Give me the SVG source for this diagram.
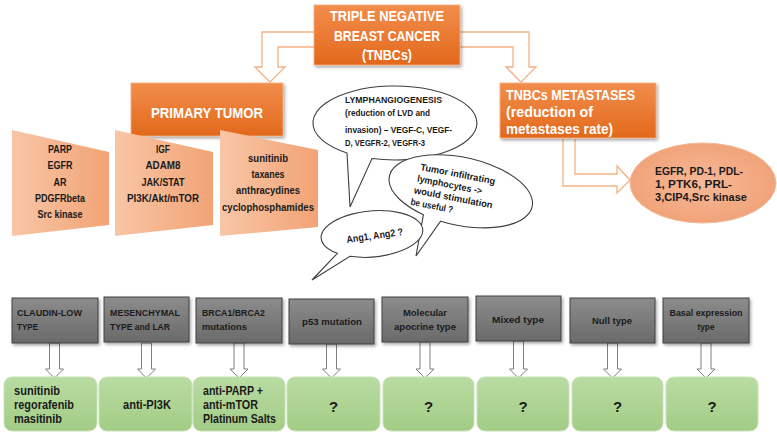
<svg xmlns="http://www.w3.org/2000/svg" width="777" height="437" viewBox="0 0 777 437">
<defs>
<linearGradient id="gOr" x1="0" y1="0" x2="0" y2="1"><stop offset="0" stop-color="#f28d4c"/><stop offset="1" stop-color="#e2691c"/></linearGradient>
<linearGradient id="gSal" x1="0" y1="0" x2="1" y2="0"><stop offset="0" stop-color="#f8c6a6"/><stop offset="1" stop-color="#f2a375"/></linearGradient>
<radialGradient id="gEll" cx="0.5" cy="0.5" r="0.6"><stop offset="0" stop-color="#f6b996"/><stop offset="1" stop-color="#f09f74"/></radialGradient>
<linearGradient id="gGr" x1="0" y1="0" x2="0" y2="1"><stop offset="0" stop-color="#8c8c8c"/><stop offset="1" stop-color="#6a6a6a"/></linearGradient>
<linearGradient id="gGn" x1="0" y1="0" x2="0" y2="1"><stop offset="0" stop-color="#b9dca2"/><stop offset="1" stop-color="#a2cc86"/></linearGradient>
<filter id="sh" x="-10%" y="-10%" width="130%" height="140%"><feDropShadow dx="1.5" dy="2" stdDeviation="1.5" flood-color="#000" flood-opacity="0.35"/></filter>
</defs>
<style>
text{font-family:"Liberation Sans",Arial,sans-serif;font-weight:bold}
.or{fill:url(#gOr);stroke:#f4b183;stroke-width:0.8;filter:url(#sh)}
.wt{fill:#fff}
.dk{fill:#1a1a1a}
.sal{fill:url(#gSal)}
.bub{fill:#fff;stroke:#3f3f3f;stroke-width:1.1}
.gray{fill:url(#gGr);stroke:#404040;stroke-width:1;filter:url(#sh)}
.green{fill:url(#gGn);stroke:#c9e2b8;stroke-width:1}
.oarr{fill:#fff;stroke:#f4b183;stroke-width:1.3}
.garr{fill:#fff;stroke:#7f7f7f;stroke-width:1}
.c{text-anchor:middle}
</style>
<rect width="777" height="437" fill="#fff"/>

<g id="connectors">
<path class="oarr" d="M314,32 L262,32 L262,67 L255,67 L270,82 L285,67 L278,67 L278,47 L314,47"/>
<path class="oarr" d="M460,32 L529,32 L529,67 L536,67 L521,82 L506,67 L513,67 L513,47 L460,47"/>
<path class="oarr" d="M563,139 L563,186 L617,186 L617,193 L630,180 L617,166 L617,174 L575,174 L575,139"/>
<path class="garr" d="M49.5,343 h10 v26 h4 l-9,9 l-9,-9 h4 z"/>
<path class="garr" d="M141.5,343 h10 v26 h4 l-9,9 l-9,-9 h4 z"/>
<path class="garr" d="M234,343 h10 v26 h4 l-9,9 l-9,-9 h4 z"/>
<path class="garr" d="M326.5,344 h10 v25 h4 l-9,9 l-9,-9 h4 z"/>
<path class="garr" d="M420,342 h10 v27 h4 l-9,9 l-9,-9 h4 z"/>
<path class="garr" d="M513.5,341 h10 v28 h4 l-9,9 l-9,-9 h4 z"/>
<path class="garr" d="M607.5,343 h10 v26 h4 l-9,9 l-9,-9 h4 z"/>
<path class="garr" d="M701,343 h10 v26 h4 l-9,9 l-9,-9 h4 z"/>
</g>

<g id="tnbc">
<rect class="or" x="314" y="5" width="146" height="60"/>
<text class="wt c" font-size="14" x="387" y="21" textLength="114" lengthAdjust="spacingAndGlyphs">TRIPLE NEGATIVE</text>
<text class="wt c" font-size="14" x="387" y="41" textLength="106" lengthAdjust="spacingAndGlyphs">BREAST CANCER</text>
<text class="wt c" font-size="14" x="387" y="60" textLength="50" lengthAdjust="spacingAndGlyphs">(TNBCs)</text>
</g>

<g id="primary">
<rect class="or" x="131" y="83" width="152" height="53"/>
<text class="wt c" font-size="15" x="207" y="118" textLength="112" lengthAdjust="spacingAndGlyphs">PRIMARY TUMOR</text>
</g>

<g id="metastases">
<rect class="or" x="500" y="83" width="156" height="55"/>
<text class="wt" font-size="15" x="506" y="100" textLength="129" lengthAdjust="spacingAndGlyphs">TNBCs METASTASES</text>
<text class="wt" font-size="15" x="506" y="117" textLength="87" lengthAdjust="spacingAndGlyphs">(reduction of</text>
<text class="wt" font-size="15" x="506" y="134" textLength="107" lengthAdjust="spacingAndGlyphs">metastases rate)</text>
</g>

<g id="trap1">
<polygon class="sal" points="12,130 109,152 109,225 12,236"/>
<text class="dk c" font-size="10" x="60" y="153" textLength="24" lengthAdjust="spacingAndGlyphs">PARP</text>
<text class="dk c" font-size="10" x="60" y="169" textLength="25" lengthAdjust="spacingAndGlyphs">EGFR</text>
<text class="dk c" font-size="10" x="60" y="186" textLength="13" lengthAdjust="spacingAndGlyphs">AR</text>
<text class="dk c" font-size="10" x="60" y="202" textLength="50" lengthAdjust="spacingAndGlyphs">PDGFRbeta</text>
<text class="dk c" font-size="10" x="60" y="218" textLength="45" lengthAdjust="spacingAndGlyphs">Src kinase</text>
</g>

<g id="trap2">
<polygon class="sal" points="115,130 213,152 213,225 115,236"/>
<text class="dk c" font-size="10" x="163" y="153" textLength="14" lengthAdjust="spacingAndGlyphs">IGF</text>
<text class="dk c" font-size="10" x="163" y="169" textLength="35" lengthAdjust="spacingAndGlyphs">ADAM8</text>
<text class="dk c" font-size="10" x="163" y="186" textLength="43" lengthAdjust="spacingAndGlyphs">JAK/STAT</text>
<text class="dk c" font-size="10" x="163" y="202" textLength="72" lengthAdjust="spacingAndGlyphs">PI3K/Akt/mTOR</text>
</g>

<g id="trap3">
<polygon class="sal" points="220,130 318,150 318,227 220,236"/>
<text class="dk c" font-size="10" x="268" y="162" textLength="40" lengthAdjust="spacingAndGlyphs">sunitinib</text>
<text class="dk c" font-size="10" x="268" y="178" textLength="33" lengthAdjust="spacingAndGlyphs">taxanes</text>
<text class="dk c" font-size="10" x="268" y="194" textLength="64" lengthAdjust="spacingAndGlyphs">anthracydines</text>
<text class="dk c" font-size="10" x="268" y="211" textLength="92" lengthAdjust="spacingAndGlyphs">cyclophosphamides</text>
</g>

<g id="lymph">
<path class="bub" d="M372,158.5 A82 37 0 1 0 347,153 L350,207 Z"/>
<text class="dk" font-size="9.5" x="345" y="103" textLength="97" lengthAdjust="spacingAndGlyphs">LYMPHANGIOGENESIS</text>
<text class="dk" font-size="9.5" x="345" y="116" textLength="85" lengthAdjust="spacingAndGlyphs">(reduction of LVD and</text>
<text class="dk" font-size="9.5" x="345" y="133" textLength="107" lengthAdjust="spacingAndGlyphs">invasion) – VEGF-C, VEGF-</text>
<text class="dk" font-size="9.5" x="345" y="146" textLength="80" lengthAdjust="spacingAndGlyphs">D, VEGFR-2, VEGFR-3</text>
</g>

<g id="tumor">
<path class="bub" d="M440.6,221.2 A73 34 12 1 0 423.4,214.7 L416,256 Z"/>
<g transform="rotate(11 420 170)">
<text class="dk" font-size="9.5" x="420" y="170" textLength="76" lengthAdjust="spacingAndGlyphs">Tumor infiltrating</text>
<text class="dk" font-size="9.5" x="419" y="182" textLength="66" lengthAdjust="spacingAndGlyphs">lymphocytes -&gt;</text>
<text class="dk" font-size="9.5" x="418" y="194" textLength="80" lengthAdjust="spacingAndGlyphs">would stimulation</text>
<text class="dk" font-size="9.5" x="417" y="206" textLength="43" lengthAdjust="spacingAndGlyphs">be useful ?</text>
</g>
</g>

<g id="ang">
<path class="bub" d="M350,256.3 A51 23 -5 1 0 337.4,253.3 L312,280 Z"/>
<text class="dk" font-size="10" x="347" y="243" textLength="57" lengthAdjust="spacingAndGlyphs" transform="rotate(-8 347 243)">Ang1, Ang2 ?</text>
</g>

<g id="egfr">
<ellipse cx="703" cy="183" rx="73" ry="40" fill="url(#gEll)" stroke="#f4b894" stroke-width="1"/>
<text class="dk" font-size="10.5" x="655" y="175" textLength="88" lengthAdjust="spacingAndGlyphs">EGFR, PD-1, PDL-</text>
<text class="dk" font-size="10.5" x="655" y="188" textLength="77" lengthAdjust="spacingAndGlyphs">1, PTK6, PRL-</text>
<text class="dk" font-size="10.5" x="655" y="201" textLength="92" lengthAdjust="spacingAndGlyphs">3,CIP4,Src kinase</text>
</g>

<g id="type1"><rect class="gray" x="12" y="298" width="86" height="45"/>
<text class="dk" font-size="9" x="17" y="316" textLength="65" lengthAdjust="spacingAndGlyphs">CLAUDIN-LOW</text>
<text class="dk" font-size="9" x="17" y="330" textLength="21" lengthAdjust="spacingAndGlyphs">TYPE</text></g>
<g id="type2"><rect class="gray" x="104" y="297" width="85" height="45"/>
<text class="dk" font-size="9" x="110" y="316" textLength="70" lengthAdjust="spacingAndGlyphs">MESENCHYMAL</text>
<text class="dk" font-size="9" x="110" y="330" textLength="60" lengthAdjust="spacingAndGlyphs">TYPE and LAR</text></g>
<g id="type3"><rect class="gray" x="196" y="298" width="86" height="45"/>
<text class="dk" font-size="9" x="202" y="316" textLength="63" lengthAdjust="spacingAndGlyphs">BRCA1/BRCA2</text>
<text class="dk" font-size="9" x="202" y="330" textLength="45" lengthAdjust="spacingAndGlyphs">mutations</text></g>
<g id="type4"><rect class="gray" x="289" y="299" width="85" height="45"/>
<text class="dk c" font-size="9" x="332" y="325" textLength="60" lengthAdjust="spacingAndGlyphs">p53 mutation</text></g>
<g id="type5"><rect class="gray" x="382" y="297" width="86" height="45"/>
<text class="dk c" font-size="9" x="425" y="316" textLength="44" lengthAdjust="spacingAndGlyphs">Molecular</text>
<text class="dk c" font-size="9" x="425" y="330" textLength="62" lengthAdjust="spacingAndGlyphs">apocrine type</text></g>
<g id="type6"><rect class="gray" x="476" y="296" width="85" height="45"/>
<text class="dk c" font-size="9" x="518" y="323" textLength="52" lengthAdjust="spacingAndGlyphs">Mixed type</text></g>
<g id="type7"><rect class="gray" x="570" y="298" width="85" height="45"/>
<text class="dk c" font-size="9" x="612" y="324" textLength="40" lengthAdjust="spacingAndGlyphs">Null type</text></g>
<g id="type8"><rect class="gray" x="663" y="298" width="86" height="45"/>
<text class="dk c" font-size="9" x="706" y="316" textLength="73" lengthAdjust="spacingAndGlyphs">Basal expression</text>
<text class="dk c" font-size="9" x="706" y="330" textLength="17" lengthAdjust="spacingAndGlyphs">type</text></g>

<g id="ther1"><rect class="green" x="4" y="377" width="93" height="54" rx="8"/>
<text class="dk" font-size="12.5" x="14" y="395" textLength="46" lengthAdjust="spacingAndGlyphs">sunitinib</text>
<text class="dk" font-size="12.5" x="14" y="409" textLength="60" lengthAdjust="spacingAndGlyphs">regorafenib</text>
<text class="dk" font-size="12.5" x="14" y="423" textLength="48" lengthAdjust="spacingAndGlyphs">masitinib</text></g>
<g id="ther2"><rect class="green" x="99" y="377" width="93" height="54" rx="8"/>
<text class="dk c" font-size="12.5" x="147" y="409" textLength="48" lengthAdjust="spacingAndGlyphs">anti-PI3K</text></g>
<g id="ther3"><rect class="green" x="193" y="377" width="92" height="54" rx="8"/>
<text class="dk" font-size="12.5" x="203" y="395" textLength="60" lengthAdjust="spacingAndGlyphs">anti-PARP +</text>
<text class="dk" font-size="12.5" x="203" y="409" textLength="55" lengthAdjust="spacingAndGlyphs">anti-mTOR</text>
<text class="dk" font-size="12.5" x="203" y="423" textLength="73" lengthAdjust="spacingAndGlyphs">Platinum Salts</text></g>
<g id="ther4"><rect class="green" x="287" y="377" width="93" height="54" rx="8"/>
<text class="dk c" font-size="15" x="333.5" y="412">?</text></g>
<g id="ther5"><rect class="green" x="383" y="377" width="91" height="54" rx="8"/>
<text class="dk c" font-size="15" x="428.5" y="412">?</text></g>
<g id="ther6"><rect class="green" x="477" y="377" width="92" height="54" rx="8"/>
<text class="dk c" font-size="15" x="523" y="412">?</text></g>
<g id="ther7"><rect class="green" x="572" y="377" width="91" height="54" rx="8"/>
<text class="dk c" font-size="15" x="617.5" y="412">?</text></g>
<g id="ther8"><rect class="green" x="666" y="377" width="92" height="54" rx="8"/>
<text class="dk c" font-size="15" x="712" y="412">?</text></g>
</svg>
